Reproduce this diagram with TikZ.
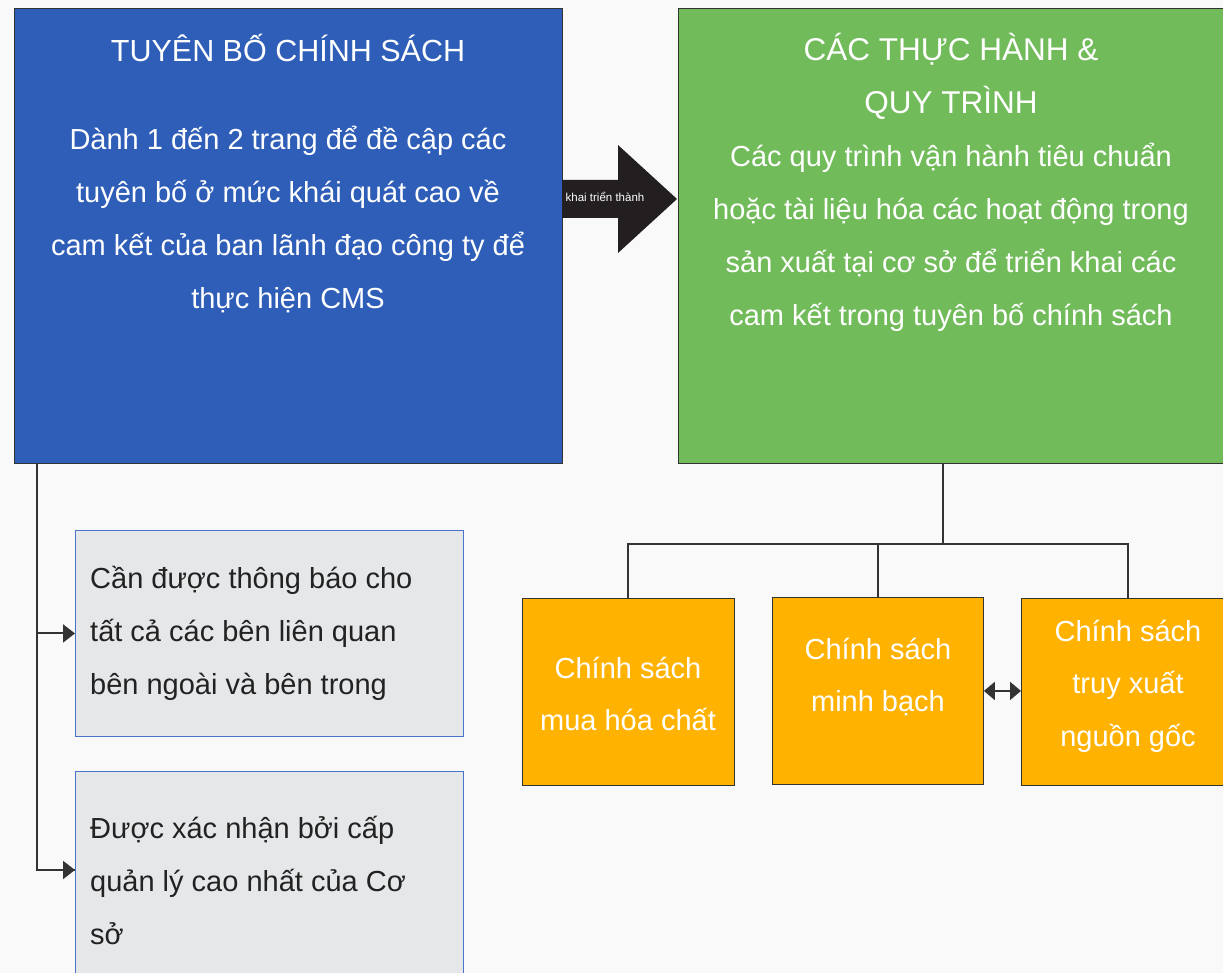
\documentclass[tikz,border=0pt]{standalone}
\usepackage{fontspec}
\setmainfont{Liberation Sans}
\usetikzlibrary{arrows.meta,calc}
\definecolor{bgc}{HTML}{F9F9F9}
\definecolor{bluec}{HTML}{2E5EB8}
\definecolor{greenc}{HTML}{72BB5B}
\definecolor{orangec}{HTML}{FFB200}
\definecolor{grayc}{HTML}{E6E7E9}
\definecolor{grayborder}{HTML}{4A74C9}
\definecolor{linec}{HTML}{333333}
\definecolor{arrowc}{HTML}{231F20}
\definecolor{darktext}{HTML}{222222}
\begin{document}
\begin{tikzpicture}[x=1pt,y=-1pt,
  box/.style={draw=linec, line width=0.9pt, anchor=north west, inner sep=0pt},
  graybox/.style={draw=grayborder, fill=grayc, line width=0.9pt, anchor=north west, inner sep=0pt},
  titletext/.style={text=white, align=center, font=\fontsize{30.5}{53}\selectfont, inner sep=0pt},
  bodytext/.style={text=white, align=center, font=\fontsize{29}{53}\selectfont, inner sep=0pt},
  leftbody/.style={text=darktext, align=left, font=\fontsize{29}{53}\selectfont, inner sep=0pt, anchor=west},
  orangetext/.style={text=white, align=center, font=\fontsize{29}{52.5}\selectfont, inner sep=0pt},
  conn/.style={draw=linec, line width=2pt},
  tip/.style={-{Triangle[length=12pt,width=18pt]}},
  dtip/.style={{Triangle[length=11pt,width=18pt]}-{Triangle[length=11pt,width=18pt]}}
]
\useasboundingbox (0,0) rectangle (1223,973);
\fill[bgc] (0,0) rectangle (1223,973);

% main boxes
\node[box, fill=bluec, minimum width=548pt, minimum height=455pt] (ps) at (14,8) {};
\node[box, fill=greenc, minimum width=560pt, minimum height=455pt] (cp) at (678,8) {};

% texts of main boxes
\node[titletext] (pstitle) at (288,48) {TUYÊN BỐ CHÍNH SÁCH};
\node[bodytext] (psbody) at (288,219) {Dành 1 đến 2 trang để đề cập các\\tuyên bố ở mức khái quát cao về\\cam kết của ban lãnh đạo công ty để\\thực hiện CMS};
\node[titletext, font=\fontsize{31.5}{53}\selectfont] (cptitle) at (951,76) {CÁC THỰC HÀNH \&\\QUY TRÌNH};
\node[bodytext] (cpbody) at (951,237) {Các quy trình vận hành tiêu chuẩn\\hoặc tài liệu hóa các hoạt động trong\\sản xuất tại cơ sở để triển khai các\\cam kết trong tuyên bố chính sách};

% big arrow
\fill[arrowc] (562,180) -- (618,180) -- (618,145) -- (677,199) -- (618,253) -- (618,218) -- (562,218) -- cycle;
\node[text=white, font=\fontsize{11.5}{13}\selectfont, inner sep=0pt] (arrlabel) at (605,197) {khai triển thành};

% gray boxes
\node[graybox, minimum width=388pt, minimum height=206pt] (g1) at (75,530) {};
\node[graybox, minimum width=388pt, minimum height=220pt] (g2) at (75,771) {};
\node[leftbody] (g1text) at (90,633) {Cần được thông báo cho\\tất cả các bên liên quan\\bên ngoài và bên trong};
\node[leftbody] (g2text) at (90,880) {Được xác nhận bởi cấp\\quản lý cao nhất của Cơ\\sở};

% left connectors
\coordinate (trunk) at (37,463);
\coordinate (g2in) at ($(g2.north west)+(0,99)$);
\draw[conn] (trunk) |- (g2in);
\draw[conn, tip] (trunk |- g2in) -- (g2in);
\draw[conn, tip] (trunk |- g1.west) -- (g1.west);

% orange boxes
\node[box, fill=orangec, minimum width=212pt, minimum height=187pt] (o1) at (522,598) {};
\node[box, fill=orangec, minimum width=211pt, minimum height=187pt] (o2) at (772,597) {};
\node[box, fill=orangec, minimum width=214pt, minimum height=187pt] (o3) at (1021,598) {};
\node[orangetext] (o1text) at (628,694) {Chính sách\\mua hóa chất};
\node[orangetext] (o2text) at (878,677) {Chính sách\\minh bạch};
\node[orangetext] (o3text) at (1128,686) {Chính sách\\truy xuất\\nguồn gốc};

% tree connectors
\coordinate (hub) at (943,544);
\draw[conn] (hub |- cp.south) -- (hub);
\draw[conn] (o1.north) |- (o3.north |- hub) -- (o3.north);
\draw[conn] (o2.north) -- (o2.north |- hub);
\draw[conn, dtip] (o2.east) -- (o2.east -| o3.west);
\end{tikzpicture}
\end{document}
